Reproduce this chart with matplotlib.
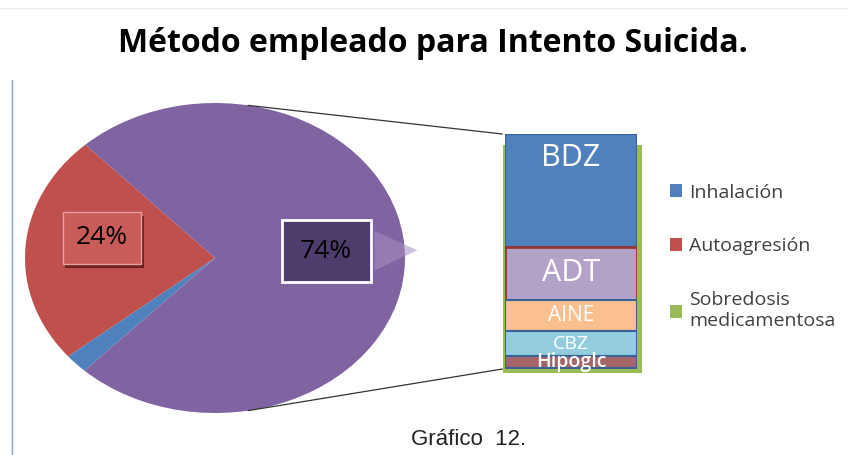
import numpy as np
import matplotlib.pyplot as plt
from matplotlib.patches import ConnectionPatch, Rectangle
from matplotlib.lines import Line2D
import matplotlib.patheffects as pe

# datos del grafico
metodos = ['Inhalación', 'Autoagresión', 'Sobredosis\nmedicamentosa']
valores = [2, 24, 74]
colores_pie = ['#4F81BD', '#C0504D', '#8064A2']
colores_leyenda = ['#4F81BD', '#C0504D', '#9BBB59']

farmacos = ['BDZ', 'ADT', 'AINE', 'CBZ', 'Hipoglc']
partes = [48, 22.5, 13.5, 10.5, 5]
colores_bar = ['#4F81BD', '#B3A2C7', '#FAC090', '#93CDDD', '#A5676A']
bordes_bar = ['#3A6294', '#953735', '#3A6294', '#3A6294', '#3A6294']
tam_txt = [22, 22, 15, 14, 14]

fig = plt.figure(figsize=(8.48, 4.55), dpi=100)

fig.text(0.51, 0.905, 'Método empleado para Intento Suicida.', ha='center', va='center',
         fontsize=23, fontweight='bold', family='Open Sans', color='black')
fig.text(0.553, 0.033, 'Gráfico  12.', ha='center', va='center', fontsize=16,
         family='Liberation Sans', color='#222222')

# marco de la diapositiva
fig.add_artist(Line2D([12/848, 12/848], [0, 1 - 80/455], color='#7F9FCF', lw=1))
fig.add_artist(Line2D([0, 1], [1 - 8/455, 1 - 8/455], color='#E8ECF2', lw=1))

# pastel (elipse)
ax = fig.add_axes([25/848, 42/455, 380/848, 310/455])
orden = [1, 0, 2]  # rojo, azul, morado en sentido antihorario
wedges, _ = ax.pie([valores[i] for i in orden], colors=[colores_pie[i] for i in orden],
                   startangle=133, counterclock=True, radius=1)
ax.set_aspect('auto')
ax.set_xlim(-1, 1)
ax.set_ylim(-1, 1)

t24 = ax.text(-0.595, 0.13, '%d%%' % valores[1], ha='center', va='center', fontsize=19,
              color='black', family='Open Sans',
              bbox=dict(boxstyle='square,pad=0.5', fc='#C95C58', ec='#E3A19F', lw=1))
t24.get_bbox_patch().set_path_effects([pe.withSimplePatchShadow(offset=(2, -3), shadow_rgbFace='#6E2220', alpha=1)])

ax.annotate('%d%%' % valores[2], xy=(1.08, 0.05), xytext=(0.585, 0.045),
            ha='center', va='center', fontsize=19, color='black', family='Open Sans',
            annotation_clip=False, zorder=5,
            bbox=dict(boxstyle='square,pad=0.7', fc='#4E3D6C', ec='white', lw=2),
            arrowprops=dict(arrowstyle='wedge,tail_width=1.5,shrink_factor=0.5', fc='#A590C2', ec='none', alpha=0.55))

# barra apilada
bx = fig.add_axes([505/848, 86/455, 132/848, 235/455])
bx.add_patch(Rectangle((-0.515, -1.7), 1.055, 97, fc='#9BBB59', ec='none', clip_on=False, zorder=0))
base = 100
for nombre, v, c, e, s in zip(farmacos, partes, colores_bar, bordes_bar, tam_txt):
    base -= v
    lw = 2 if e == '#953735' else 1.5
    bx.bar(0, v, bottom=base, width=1, color=c, edgecolor=e, lw=lw, zorder=2)
    ty = base + v - 10 if nombre == 'BDZ' else base + v / 2
    bx.text(0, ty, nombre, ha='center', va='center', color='white', fontsize=s,
            family='Open Sans', fontweight='semibold' if nombre == 'Hipoglc' else 'normal', zorder=3)
bx.set_xlim(-0.5, 0.5)
bx.set_ylim(0, 100)
bx.axis('off')

# lineas de union
ang = np.deg2rad(80)
for yy, sgn in [(100, 1), (0, -1)]:
    con = ConnectionPatch(xyA=(np.cos(ang), sgn * np.sin(ang)), coordsA=ax.transData,
                          xyB=(-0.52, yy), coordsB=bx.transData, color='#333333', lw=0.9)
    fig.add_artist(con)

# leyenda
handles = [Rectangle((0, 0), 1, 1, fc=c, ec='none') for c in colores_leyenda]
fig.legend(handles, metodos, loc='upper left', bbox_to_anchor=(652/848, 1 - 166/455),
           frameon=False, handlelength=0.65, handleheight=0.65,
           handletextpad=0.35, labelspacing=1.85, prop={'family': 'Open Sans', 'size': 14},
           labelcolor='#404040')

fig.savefig('out.png', dpi=100)
